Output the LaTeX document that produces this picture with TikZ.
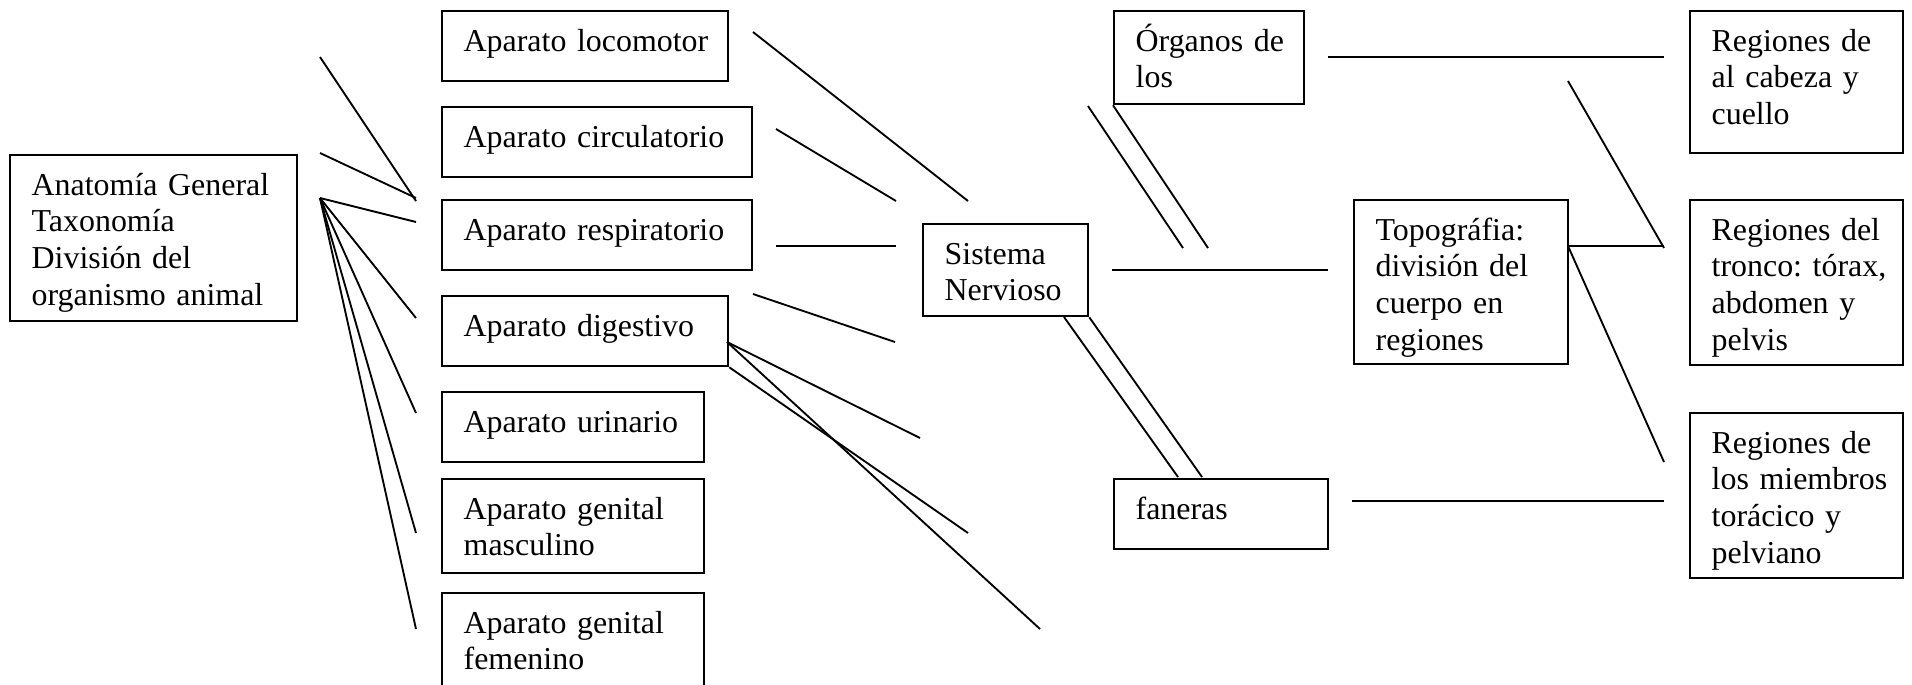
\documentclass[tikz,border=0pt]{standalone}
\usepackage{fontspec}
\setmainfont{Liberation Serif}
\usetikzlibrary{positioning}

\def\px{0.376pt}
\tikzset{
  caja/.style 2 args={draw, line width=0.85pt, anchor=north west, inner sep=0pt,
    align=left, text width=#1*\px, text height=15pt, text depth=#2*\px-15pt,
    font=\fontsize{12pt}{13.8pt}\selectfont,
    execute at begin node={\frenchspacing\leftskip=8.1pt}},
  linea/.style={line width=0.7pt},
}

\begin{document}
\begin{tikzpicture}[x=\px,y=-\px]

\useasboundingbox (0,0) rectangle (1912,684);
\clip (0,0) rectangle (1912,684);

\node[caja={287}{166}] (gen)  at (9,154)    {Anatomía General\\Taxonomía\\División del\\organismo animal};
\node[caja={286}{70}]  (loco) at (441,10)   {Aparato locomotor};
\node[caja={310}{70}]  (circ) at (441,106)  {Aparato circulatorio};
\node[caja={310}{70}]  (resp) at (441,199)  {Aparato respiratorio};
\node[caja={286}{70}]  (dige) at (441,295)  {Aparato digestivo};
\node[caja={262}{70}]  (urin) at (441,391)  {Aparato urinario};
\node[caja={262}{94}]  (masc) at (441,478)  {Aparato genital\\masculino};
\node[caja={262}{110}] (feme) at (441,592)  {Aparato genital\\femenino};
\node[caja={165}{92}]  (sn)   at (922,223)  {Sistema\\Nervioso};
\node[caja={190}{93}]  (org)  at (1113,10)  {Órganos de\\los};
\node[caja={214}{70}]  (fan)  at (1113,478) {faneras};
\node[caja={214}{164}] (topo) at (1353,199) {Topográfia:\\división del\\cuerpo en\\regiones};
\node[caja={213}{142}] (cab)  at (1689,10)  {Regiones de\\al cabeza y\\cuello};
\node[caja={213}{165}] (tron) at (1689,199) {Regiones del\\tronco: tórax,\\abdomen y\\pelvis};
\node[caja={213}{165}] (miem) at (1689,412) {Regiones de\\los miembros\\torácico y\\pelviano};

% left fan
\coordinate (g0) at (320,198);
\coordinate (ga) at (320,57);
\coordinate (gb) at (320,153);
\coordinate (g1) at (416,201);
\coordinate (g2) at (416,198);
\coordinate (g3) at (416,222);
\coordinate (g4) at (416,318);
\coordinate (g5) at (416,413);
\coordinate (g6) at (416,533);
\coordinate (g7) at (416,629);
\draw[linea] (ga) -- (g1);
\draw[linea] (gb) -- (g2);
\foreach \x in {3,...,7}{\draw[linea] (g0) -- (g\x);}

% towards the nervous system
\coordinate (a1) at (753,32);   \coordinate (b1) at (968,201);
\coordinate (a2) at (776,129);  \coordinate (b2) at (896,201);
\coordinate (a3) at (776,246);  \coordinate (b3) at (896,246);
\coordinate (a4) at (753,294);  \coordinate (b4) at (895,342);
\foreach \x in {1,...,4}{\draw[linea] (a\x) -- (b\x);}

\coordinate (d0) at (727,342);
\coordinate (d1) at (920,438);
\coordinate (d2) at (1040,629);
\coordinate (d3) at (968,533);
\draw[linea] (d0) -- (d1);
\draw[linea] (d0) -- (d2);
\draw[linea] (dige.south east) -- (d3);

% around the nervous system
\coordinate (o1) at (1088,106);  \coordinate (o2) at (1183,248);
\coordinate (o3) at (1208,248);
\draw[linea] (o1) -- (o2);
\draw[linea] (org.south west) -- (o3);
\coordinate (h1) at (1112,270);  \coordinate (h2) at (1328,270);
\draw[linea] (h1) -- (h2);
\coordinate (f1) at (1064,317);  \coordinate (f2) at (1178,477);
\coordinate (f3) at (1202,477);
\draw[linea] (f1) -- (f2);
\draw[linea] (sn.south east) -- (f3);

% regions
\coordinate (r1) at (1328,57);   \coordinate (s1) at (1664,57);
\coordinate (r2) at (1568,81);   \coordinate (s2) at (1664,248);
\coordinate (t0) at (1568,246);  \coordinate (s3) at (1664,246);
\coordinate (s4) at (1664,462);
\coordinate (r5) at (1352,501);  \coordinate (s5) at (1664,501);
\draw[linea] (r1) -- (s1);
\draw[linea] (r2) -- (s2);
\draw[linea] (t0) -- (s3);
\draw[linea] (t0) -- (s4);
\draw[linea] (r5) -- (s5);

\end{tikzpicture}
\end{document}
